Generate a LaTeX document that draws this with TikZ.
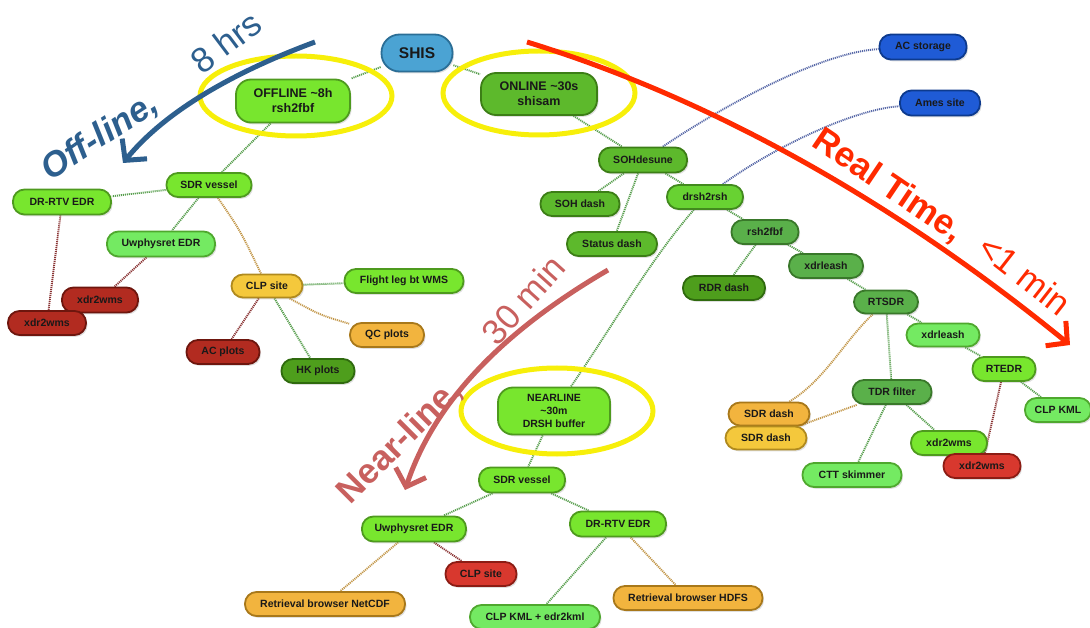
\documentclass[tikz,border=0pt]{standalone}
\usepackage{fontspec}
\setmainfont{Liberation Sans}
\usetikzlibrary{shadows,arrows.meta}
\pgfdeclarelayer{conn}
\pgfdeclarelayer{ell}
\pgfsetlayers{conn,ell,main}
\definecolor{gBf}{HTML}{78E62E}\definecolor{gBd}{HTML}{4E9A1E}
\definecolor{gLf}{HTML}{74EA62}\definecolor{gLd}{HTML}{4FA82E}
\definecolor{gMf}{HTML}{5DB92C}\definecolor{gMd}{HTML}{3C7E16}
\definecolor{gDf}{HTML}{68D232}\definecolor{gDd}{HTML}{428A1E}
\definecolor{gUf}{HTML}{5AB04A}\definecolor{gUd}{HTML}{39782A}
\definecolor{gKf}{HTML}{4E9E1C}\definecolor{gKd}{HTML}{2F6A0E}
\definecolor{rDf}{HTML}{B22B20}\definecolor{rDd}{HTML}{6E160E}
\definecolor{rRf}{HTML}{D8382E}\definecolor{rRd}{HTML}{8C1C14}
\definecolor{yYf}{HTML}{F4C83C}\definecolor{yYd}{HTML}{B08A1E}
\definecolor{yOf}{HTML}{F2B43E}\definecolor{yOd}{HTML}{A8781A}
\definecolor{bBf}{HTML}{1F5BD6}\definecolor{bBd}{HTML}{0D3A8E}
\definecolor{bSf}{HTML}{4BA3D3}\definecolor{bSd}{HTML}{2B6E96}
\definecolor{lkG}{HTML}{589E4E}\definecolor{lkT}{HTML}{C29648}
\definecolor{lkR}{HTML}{8A3434}\definecolor{lkB}{HTML}{5566A6}
\definecolor{ellY}{HTML}{F7EF0A}
\definecolor{arB}{HTML}{2D5F8E}\definecolor{arR}{HTML}{FF2A00}\definecolor{arN}{HTML}{C8605E}
\tikzset{
 nd/.style={draw, line width=1.8pt, rounded corners=11.5pt, minimum height=24pt, inner sep=0pt,
   font=\fontsize{10.5}{13}\selectfont\bfseries, text=black!90, align=center,
   drop shadow={opacity=0.25,shadow xshift=1.5pt,shadow yshift=-1.8pt}},
 bignd/.style={nd, rounded corners=15pt, font=\fontsize{12.5}{15}\selectfont\bfseries},
 cB/.style={fill=gBf, draw=gBd},
 cL/.style={fill=gLf, draw=gLd},
 cM/.style={fill=gMf, draw=gMd},
 cD/.style={fill=gDf, draw=gDd},
 cU/.style={fill=gUf, draw=gUd},
 cK/.style={fill=gKf, draw=gKd},
 cRD/.style={fill=rDf, draw=rDd},
 cRR/.style={fill=rRf, draw=rRd},
 cY/.style={fill=yYf, draw=yYd},
 cO/.style={fill=yOf, draw=yOd},
 cBl/.style={fill=bBf, draw=bBd},
 lk/.style={line width=1.9pt, dash pattern=on 1.1pt off 0.9pt},
 lg/.style={lk, draw=lkG},
 lt/.style={lk, draw=lkT},
 lr/.style={lk, draw=lkR},
 lb/.style={lk, draw=lkB},
 yell/.style={draw=ellY, line width=5pt},
 bigarrow/.style={line width=5pt, -{Straight Barb[length=15pt,width=32pt]}},
 bigbold/.style={font=\fontsize{35}{35}\selectfont\bfseries},
 bigreg/.style={font=\fontsize{35}{35}\selectfont},
}
\begin{document}
\begin{tikzpicture}[x=1pt,y=-1pt]
\useasboundingbox (0,0) rectangle (1090,628);
% nodes
\node[nd, fill=bSf, draw=bSd, rounded corners=18pt, minimum width=71pt, minimum height=37pt, font=\fontsize{15.5}{15}\selectfont\bfseries] (SHIS) at (417,53) {SHIS};
\node[bignd, cB, minimum width=114pt, minimum height=43pt] (OFF) at (293,101) {OFFLINE \textasciitilde8h\\rsh2fbf};
\node[bignd, cM, minimum width=116pt, minimum height=42pt] (ON) at (539,94) {ONLINE \textasciitilde30s\\shisam};
\node[nd, cM, minimum width=88pt, minimum height=25pt] (SOHd) at (643,160) {SOHdesune};
\node[nd, cM, minimum width=79pt] (SOHdash) at (580,204) {SOH dash};
\node[nd, cM, minimum width=90pt] (Stat) at (612,244) {Status dash};
\node[nd, cD, minimum width=76pt] (drsh) at (705,197) {drsh2rsh};
\node[nd, cU, minimum width=67pt] (rsh) at (765,232) {rsh2fbf};
\node[nd, cK, minimum width=82pt] (RDR) at (724,288) {RDR dash};
\node[nd, cU, minimum width=74pt] (xlA) at (826,266) {xdrleash};
\node[nd, cU, minimum width=64pt, minimum height=23pt] (RTSDR) at (886,302) {RTSDR};
\node[nd, cL, minimum width=73pt, minimum height=23pt] (xlB) at (943,335) {xdrleash};
\node[nd, cB, minimum width=63pt] (RTEDR) at (1004,369) {RTEDR};
\node[nd, cL, minimum width=66pt] (CLPKML) at (1058,410) {CLP KML};
\node[nd, cU, minimum width=79pt] (TDR) at (892,392) {TDR filter};
\node[nd, cO, minimum width=81pt, minimum height=23pt] (SDRdA) at (769,414) {SDR dash};
\node[nd, cY, minimum width=81pt, minimum height=23pt] (SDRdB) at (766,438) {SDR dash};
\node[nd, cB, minimum width=76pt] (xwG) at (949,443) {xdr2wms};
\node[nd, cRR, minimum width=77pt] (xwR) at (982,466) {xdr2wms};
\node[nd, cL, minimum width=99pt] (CTT) at (852,475) {CTT skimmer};
\node[nd, cBl, minimum width=87pt, minimum height=25pt] (ACs) at (923,47) {AC storage};
\node[nd, cBl, minimum width=80pt, minimum height=25pt] (Ames) at (940,103) {Ames site};
\node[nd, cB, minimum width=85pt] (SDRvL) at (209,185) {SDR vessel};
\node[nd, cB, minimum width=98pt, minimum height=25pt] (DRL) at (62,202) {DR-RTV EDR};
\node[nd, cL, minimum width=108pt, minimum height=25pt] (UwL) at (161,244) {Uwphysret EDR};
\node[nd, cRD, minimum width=76pt, minimum height=25pt] (xwU) at (100,300) {xdr2wms};
\node[nd, cRD, minimum width=78pt] (xwL) at (47,323) {xdr2wms};
\node[nd, cY, minimum width=71pt, minimum height=23pt] (CLPL) at (267,286) {CLP site};
\node[nd, cB, minimum width=119pt] (Flight) at (404,281) {Flight leg bt WMS};
\node[nd, cO, minimum width=74pt] (QC) at (387,335) {QC plots};
\node[nd, cRD, minimum width=73pt] (ACp) at (223,352) {AC plots};
\node[nd, cK, minimum width=73pt] (HK) at (318,371) {HK plots};
\node[nd, cB, rounded corners=15pt, minimum width=112pt, minimum height=47pt] (NEAR) at (554,411) {NEARLINE\\\textasciitilde30m\\DRSH buffer};
\node[nd, cB, minimum width=86pt, minimum height=25pt] (SDRvN) at (522,480) {SDR vessel};
\node[nd, cB, minimum width=104pt, minimum height=25pt] (UwN) at (414,529) {Uwphysret EDR};
\node[nd, cB, minimum width=96pt, minimum height=25pt] (DRN) at (618,524) {DR-RTV EDR};
\node[nd, cRR, minimum width=71pt] (CLPN) at (481,574) {CLP site};
\node[nd, cO, minimum width=160pt] (NetCDF) at (325,604) {Retrieval browser NetCDF};
\node[nd, cO, minimum width=149pt] (HDFS) at (688,598) {Retrieval browser HDFS};
\node[nd, cL, minimum width=130pt] (KMLedr) at (535,617) {CLP KML + edr2kml};
% ellipses
\begin{pgfonlayer}{ell}
\draw[yell] (296,96) ellipse [x radius=96, y radius=40];
\draw[yell] (539,93) ellipse [x radius=96, y radius=42];
\draw[yell] (557,411) ellipse [x radius=96, y radius=43];
\end{pgfonlayer}
% connectors
\begin{pgfonlayer}{conn}
\draw[lg] (SHIS) -- (OFF);
\draw[lg] (SHIS) -- (ON);
\draw[lg] (OFF) -- (SDRvL);
\draw[lg] (SDRvL) -- (DRL);
\draw[lg] (SDRvL) -- (UwL);
\draw[lt] (SDRvL) .. controls (240,230) .. (CLPL);
\draw[lr] (DRL) -- (xwL);
\draw[lr] (UwL) -- (xwU);
\draw[lg] (CLPL) -- (Flight);
\draw[lt] (CLPL) .. controls (320,315) .. (QC);
\draw[lr] (CLPL) -- (ACp);
\draw[lg] (CLPL) -- (HK);
\draw[lg] (ON) -- (SOHd);
\draw[lg] (SOHd) -- (SOHdash);
\draw[lg] (SOHd) -- (Stat);
\draw[lg] (SOHd) -- (drsh);
\draw[lb] (SOHd) .. controls (720,108) and (820,52) .. (ACs);
\draw[lb] (drsh) .. controls (770,150) and (850,110) .. (Ames);
\draw[lg] (drsh) -- (rsh);
\draw[lg] (drsh) .. controls (650,260) and (610,330) .. (NEAR);
\draw[lg] (rsh) -- (RDR);
\draw[lg] (rsh) -- (xlA);
\draw[lg] (xlA) -- (RTSDR);
\draw[lg] (RTSDR) -- (xlB);
\draw[lg] (RTSDR) -- (TDR);
\draw[lt] (RTSDR) .. controls (845,340) and (825,380) .. (SDRdA);
\draw[lg] (xlB) -- (RTEDR);
\draw[lg] (RTEDR) -- (CLPKML);
\draw[lr] (RTEDR) -- (xwR);
\draw[lt] (TDR) -- (SDRdB);
\draw[lg] (TDR) -- (CTT);
\draw[lg] (TDR) -- (xwG);
\draw[lg] (NEAR) -- (SDRvN);
\draw[lg] (SDRvN) -- (UwN);
\draw[lg] (SDRvN) -- (DRN);
\draw[lr] (UwN) -- (CLPN);
\draw[lt] (UwN) -- (NetCDF);
\draw[lg] (DRN) -- (KMLedr);
\draw[lt] (DRN) -- (HDFS);
\end{pgfonlayer}
% big arrows
\coordinate (bA) at (315,42); \coordinate (bB) at (123,163);
\draw[bigarrow, draw=arB] (bA) .. controls (226,75) and (162,115) .. (bB);
\coordinate (rA) at (527,42); \coordinate (rB) at (1070,345);
\draw[bigarrow, draw=arR] (rA) .. controls (709,98) and (891,199) .. (rB);
\coordinate (nA) at (608,270); \coordinate (nB) at (405,490);
\draw[bigarrow, draw=arN] (nA) .. controls (505,330) and (435,400) .. (nB);
% labels
\node[bigbold, font=\fontsize{35}{35}\selectfont\bfseries\itshape, text=arB, rotate=33] (offl) at (100,137) {Off-line,};
\node[bigreg, text=arB, rotate=37] (hrs) at (226,42) {8 hrs};
\node[bigbold, text=arR, rotate=-34] (rt) at (888,186) {Real Time,};
\node[bigreg, text=arR, rotate=-38] (lt1) at (1025,275) {\textless1 min};
\node[bigbold, text=arN, rotate=45] (nl) at (400,442) {Near-line,};
\node[bigreg, text=arN, rotate=48] (m30) at (523,300) {30 min};
\end{tikzpicture}
\end{document}
